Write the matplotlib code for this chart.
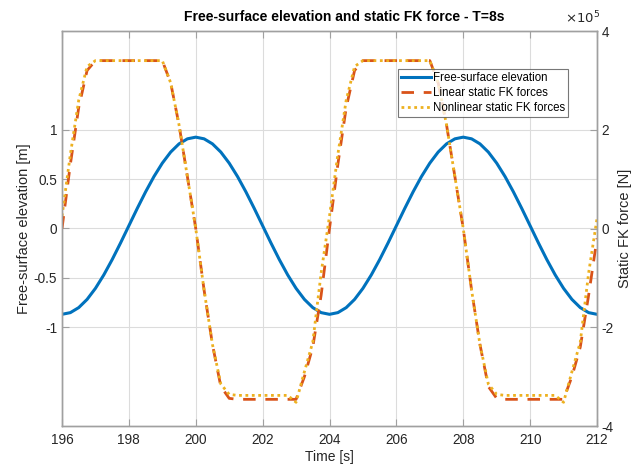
import numpy as np
import matplotlib
matplotlib.use('Agg')
import matplotlib.pyplot as plt

plt.rcParams['font.family'] = ['Liberation Sans', 'DejaVu Sans']

# time samples [s], 0.25 s step
t = np.arange(196, 212.001, 0.25)

# free-surface elevation [m]
eta = [-0.869, -0.852, -0.801, -0.718, -0.606, -0.470, -0.315, -0.147,
       0.028, 0.203, 0.371, 0.526, 0.662, 0.774, 0.857, 0.908,
       0.925, 0.908, 0.857, 0.774, 0.662, 0.526, 0.371, 0.203,
       0.028, -0.147, -0.315, -0.470, -0.606, -0.718, -0.801, -0.852,
       -0.869, -0.852, -0.801, -0.718, -0.606, -0.470, -0.315, -0.147,
       0.028, 0.203, 0.371, 0.526, 0.662, 0.774, 0.857, 0.908,
       0.925, 0.908, 0.857, 0.774, 0.662, 0.526, 0.371, 0.203,
       0.028, -0.147, -0.315, -0.470, -0.606, -0.718, -0.801, -0.852,
       -0.869]

# static FK forces [x1e5 N]
f_lin = [0.00, 1.30, 2.45, 3.20, 3.40, 3.40, 3.40, 3.40,
         3.40, 3.40, 3.40, 3.40, 3.40, 2.95, 2.10, 1.05,
         0.00, -1.25, -2.35, -3.20, -3.44, -3.46, -3.46, -3.46,
         -3.46, -3.46, -3.46, -3.46, -3.46, -3.00, -2.40, -1.35,
         0.00, 1.30, 2.45, 3.20, 3.40, 3.40, 3.40, 3.40,
         3.40, 3.40, 3.40, 3.40, 3.40, 2.95, 2.10, 1.05,
         0.00, -1.25, -2.35, -3.20, -3.44, -3.46, -3.46, -3.46,
         -3.46, -3.46, -3.46, -3.46, -3.46, -3.00, -2.40, -1.35,
         -0.20]
f_nl = [0.25, 1.50, 2.60, 3.28, 3.40, 3.40, 3.40, 3.40,
        3.40, 3.40, 3.40, 3.40, 3.40, 2.95, 2.10, 1.05,
        0.00, -1.25, -2.35, -3.15, -3.36, -3.38, -3.38, -3.38,
        -3.38, -3.38, -3.38, -3.38, -3.52, -2.90, -2.30, -0.90,
        0.25, 1.50, 2.60, 3.28, 3.40, 3.40, 3.40, 3.40,
        3.40, 3.40, 3.40, 3.40, 3.40, 2.95, 2.10, 1.05,
        0.00, -1.25, -2.35, -3.15, -3.36, -3.38, -3.38, -3.38,
        -3.38, -3.38, -3.38, -3.38, -3.52, -2.90, -2.30, -0.90,
        0.20]

xticks = [196, 198, 200, 202, 204, 206, 208, 210, 212]
yticks_left = [-1, -0.5, 0, 0.5, 1]
yticks_right = [-4, -2, 0, 2, 4]

spine_col = '#a0a0a0'
text_col = '#262626'

fig = plt.figure(figsize=(6.42, 4.65), dpi=100)
ax = fig.add_axes([62 / 642, 1 - 426 / 465, 535 / 642, 395 / 465])
ax2 = ax.twinx()

h1, = ax.plot(t, eta, color='#0072BD', lw=2.2, label='Free-surface elevation')
h2, = ax2.plot(t, f_lin, color='#D95319', lw=2.0, ls=(0, (4.5, 3.5)),
               label='Linear static FK forces')
h3, = ax2.plot(t, f_nl, color='#EDB120', lw=2.0, ls=(0, (1, 1.3)),
               label='Nonlinear static FK forces')

ax.set_xlim(196, 212)
ax.set_ylim(-2, 2)
ax2.set_ylim(-4, 4)
ax.set_xticks(xticks)
ax.set_yticks(yticks_left)
ax.set_yticklabels(['-1', '-0.5', '0', '0.5', '1'])
ax2.set_yticks(yticks_right)
ax2.set_yticklabels([str(v) for v in yticks_right])

ax.grid(True, color='#dcdcdc', lw=0.8)
ax.set_axisbelow(True)

for a in (ax, ax2):
    for s in a.spines.values():
        s.set_color(spine_col)
        s.set_linewidth(1.0)
ax.tick_params(axis='x', direction='in', top=True, length=5, color=spine_col,
               labelsize=9.8, labelcolor=text_col, pad=5)
ax.tick_params(axis='y', direction='in', length=5, color=spine_col,
               labelsize=9.8, labelcolor=text_col)
ax2.tick_params(axis='y', direction='in', length=5, color=spine_col,
                labelsize=9.8, labelcolor=text_col)

ax.set_xlabel('Time [s]', fontsize=10, color=text_col, labelpad=2)
ax.set_ylabel('Free-surface elevation [m]', fontsize=10.5, color=text_col, labelpad=2)
ax2.set_ylabel('Static FK force [N]', fontsize=10.5, color=text_col, labelpad=3)
ax.set_title('Free-surface elevation and static FK force - T=8s',
             fontsize=10, fontweight='bold', color='black', pad=7, x=0.527)
ax2.text(1.005, 1.012, r'$\times10^{5}$', transform=ax2.transAxes, ha='right',
         va='bottom', fontsize=9.5, color=text_col)

leg = ax2.legend(handles=[h1, h2, h3], loc='upper left',
                 bbox_to_anchor=(0.628, 0.905), fontsize=8.3, frameon=True,
                 fancybox=False, edgecolor='#555555', handlelength=2.6,
                 handletextpad=0.1, borderpad=0.3, labelspacing=0.25,
                 borderaxespad=0)
leg.get_frame().set_linewidth(0.8)

fig.savefig('out.png', dpi=100)
